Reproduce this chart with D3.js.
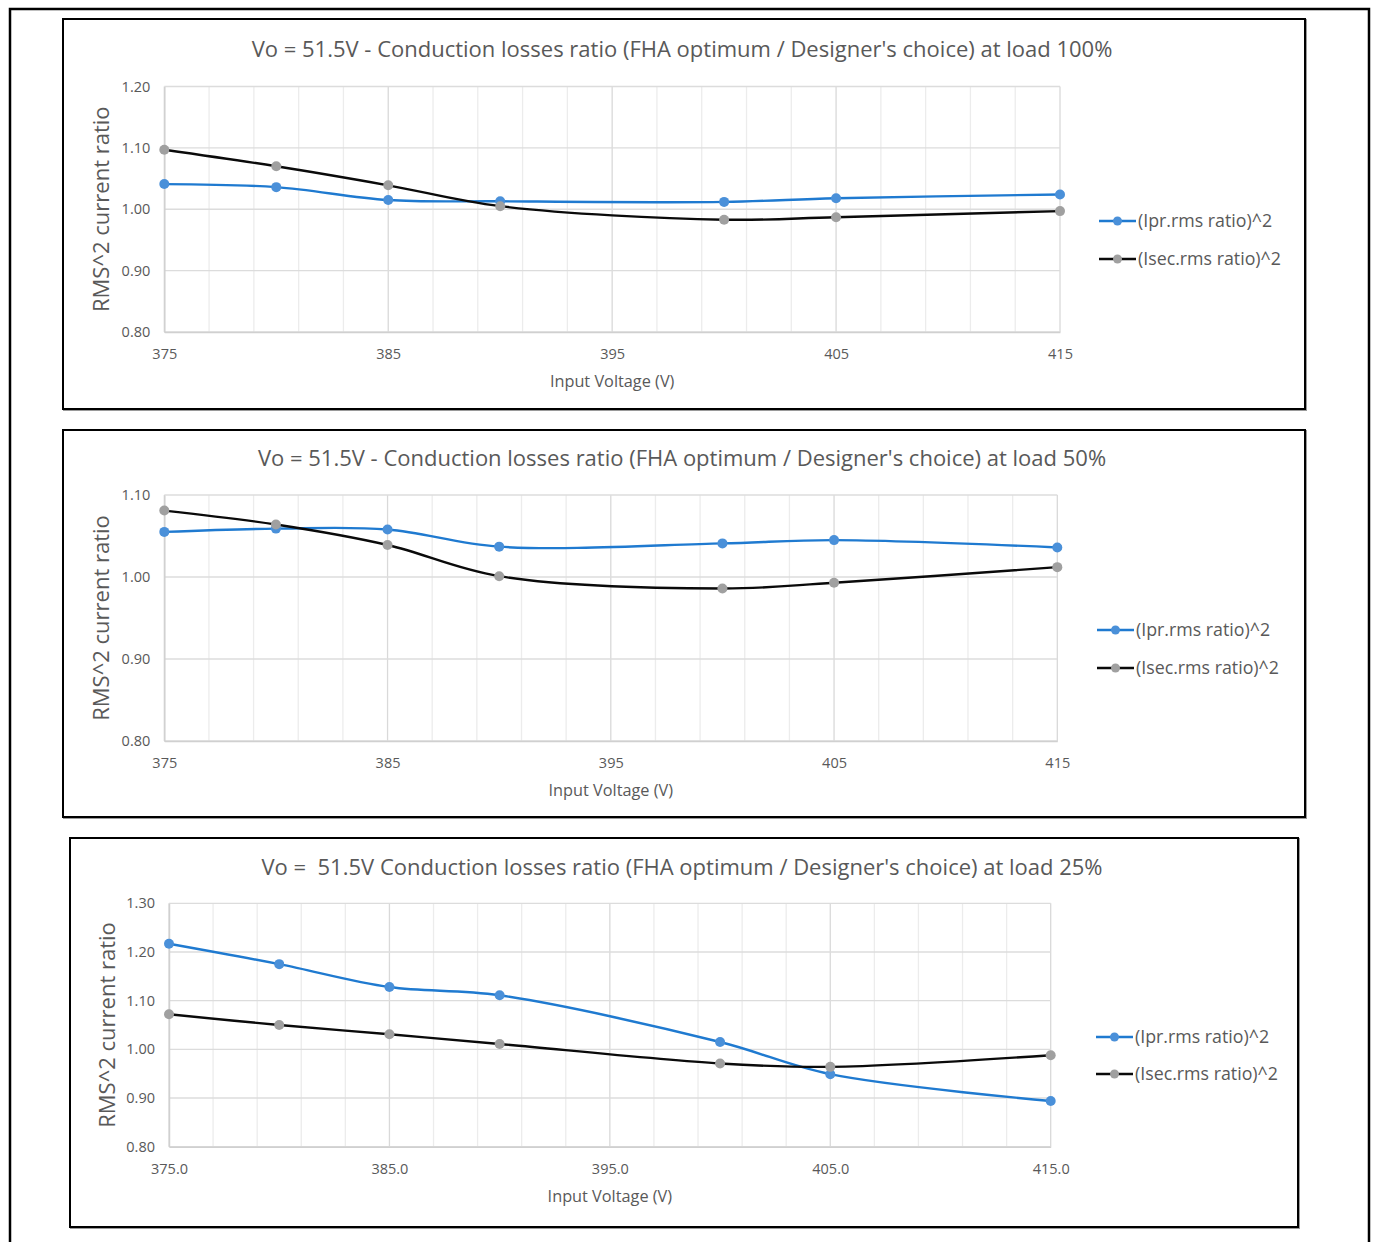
<!DOCTYPE html>
<html>
<head>
<meta charset="utf-8">
<script src="https://cdn.jsdelivr.net/npm/d3@7"></script>
<style>
  html, body { margin: 0; padding: 0; background: #fff; }
  svg { display: block; font-family: "Open Sans", Lato, sans-serif; }
</style>
</head>
<body>
<svg id="chart" width="1373" height="1242"></svg>
<script>
// Input voltage sample points (V)
const inputVoltage = [375, 380, 385, 390, 400, 405, 415];

// Load 100 %
const iprLoad100  = [1.041, 1.036, 1.015, 1.013, 1.012, 1.018, 1.024];
const isecLoad100 = [1.097, 1.070, 1.039, 1.005, 0.983, 0.987, 0.997];

// Load 50 %
const iprLoad50  = [1.055, 1.059, 1.058, 1.037, 1.041, 1.045, 1.036];
const isecLoad50 = [1.081, 1.064, 1.039, 1.001, 0.986, 0.993, 1.012];

// Load 25 %
const iprLoad25  = [1.217, 1.175, 1.128, 1.111, 1.015, 0.949, 0.894];
const isecLoad25 = [1.072, 1.050, 1.031, 1.011, 0.971, 0.964, 0.988];

const titles = [
  "Vo = 51.5V - Conduction losses ratio (FHA optimum / Designer's choice) at load 100%",
  "Vo = 51.5V - Conduction losses ratio (FHA optimum / Designer's choice) at load 50%",
  "Vo =  51.5V Conduction losses ratio (FHA optimum / Designer's choice) at load 25%"
];
const seriesNames = ["(Ipr.rms ratio)^2", "(Isec.rms ratio)^2"];
const xTicks = [375, 385, 395, 405, 415];
const yTicks100 = [0.80, 0.90, 1.00, 1.10, 1.20];
const yTicks50  = [0.80, 0.90, 1.00, 1.10];
const yTicks25  = [0.80, 0.90, 1.00, 1.10, 1.20, 1.30];
const xTitle = "Input Voltage (V)";
const yTitle = "RMS^2 current ratio";

const svg = d3.select("#chart");
const textGray = "#595959";
const blueLine = "#1f7ad0", blueMark = "#4a90d9";
const blackLine = "#0a0a0a", grayMark = "#a0a0a0";

// Outer frame (open at the bottom)
svg.append("path")
  .attr("d", "M10,1242 V9 H1369 V1242")
  .attr("fill", "none").attr("stroke", "#000").attr("stroke-width", 2.5);

const panels = [
  { box: [63, 19, 1305, 409], plot: [164.3, 1060, 86.5, 332], title: titles[0], titleY: 57,
    yTicks: yTicks100, xFmt: d3.format("d"), series: [iprLoad100, isecLoad100],
    legendX: 1099, legendY: [221, 259], yTitleX: 109 },
  { box: [63, 430, 1305, 817], plot: [164.3, 1057.3, 495, 741], title: titles[1], titleY: 466,
    yTicks: yTicks50, xFmt: d3.format("d"), series: [iprLoad50, isecLoad50],
    legendX: 1097, legendY: [630, 668], yTitleX: 109 },
  { box: [70, 838, 1298, 1227], plot: [169, 1050.7, 903.3, 1146.7], title: titles[2], titleY: 875,
    yTicks: yTicks25, xFmt: d3.format(".1f"), series: [iprLoad25, isecLoad25],
    legendX: 1096, legendY: [1037, 1074], yTitleX: 115 }
];

panels.forEach(p => {
  const g = svg.append("g");
  const [bx0, by0, bx1, by1] = p.box;
  // panel border with faint shadow
  g.append("rect").attr("x", bx0 + 1).attr("y", by0 + 1)
    .attr("width", bx1 - bx0).attr("height", by1 - by0)
    .attr("fill", "none").attr("stroke", "#9a9a9a").attr("stroke-width", 2);
  g.append("rect").attr("x", bx0).attr("y", by0)
    .attr("width", bx1 - bx0).attr("height", by1 - by0)
    .attr("fill", "#fff").attr("stroke", "#000").attr("stroke-width", 2);

  const [px0, px1, py0, py1] = p.plot;
  const x = d3.scaleLinear().domain([375, 415]).range([px0, px1]);
  const yMin = p.yTicks[0], yMax = p.yTicks[p.yTicks.length - 1];
  const y = d3.scaleLinear().domain([yMin, yMax]).range([py1, py0]);

  // vertical gridlines every 2 V
  const vGrid = d3.range(375, 415.1, 2);
  g.append("g").selectAll("line").data(vGrid).join("line")
    .attr("x1", d => x(d)).attr("x2", d => x(d))
    .attr("y1", py0).attr("y2", py1)
    .attr("stroke", d => ((d - 375) % 10 === 0) ? "#d9d9d9" : "#ececec")
    .attr("stroke-width", 1.3);
  // horizontal gridlines
  g.append("g").selectAll("line").data(p.yTicks).join("line")
    .attr("x1", px0).attr("x2", px1)
    .attr("y1", d => y(d)).attr("y2", d => y(d))
    .attr("stroke", "#dcdcdc").attr("stroke-width", 1.3);

  // axes
  const xAxis = d3.axisBottom(x).tickValues(xTicks).tickFormat(p.xFmt).tickSize(0).tickPadding(17);
  const xg = g.append("g").attr("transform", `translate(0,${py1})`).call(xAxis);
  xg.select(".domain").attr("stroke", "#d0d0d0").attr("stroke-width", 1.5);
  xg.selectAll("text").attr("fill", textGray).style("font-size", "14.5px").style("font-family", "Open Sans");

  const yAxis = d3.axisLeft(y).tickValues(p.yTicks).tickFormat(d3.format(".2f")).tickSize(0).tickPadding(14);
  const yg = g.append("g").attr("transform", `translate(${px0},0)`).call(yAxis);
  yg.select(".domain").attr("stroke", "#d0d0d0").attr("stroke-width", 1.5);
  yg.selectAll("text").attr("fill", textGray).style("font-size", "14.5px").style("font-family", "Open Sans");

  // titles
  g.append("text").attr("x", (bx0 + bx1) / 2 - 2).attr("y", p.titleY)
    .attr("text-anchor", "middle").attr("fill", textGray)
    .style("white-space", "pre")
    .style("font-size", "22px").text(p.title);
  g.append("text").attr("x", (px0 + px1) / 2).attr("y", py1 + 55)
    .attr("text-anchor", "middle").attr("fill", textGray)
    .style("font-size", "16.3px").text(xTitle);
  g.append("text")
    .attr("transform", `translate(${p.yTitleX},${(py0 + py1) / 2}) rotate(-90)`)
    .attr("text-anchor", "middle").attr("fill", textGray)
    .style("font-size", "22px").text(yTitle);

  // series
  const line = d3.line().x((d, i) => x(inputVoltage[i])).y(d => y(d))
    .curve(d3.curveCatmullRom.alpha(0.5));
  const styles = [
    { line: blueLine, mark: blueMark },
    { line: blackLine, mark: grayMark }
  ];
  p.series.forEach((vals, si) => {
    g.append("path").datum(vals).attr("d", line)
      .attr("fill", "none").attr("stroke", styles[si].line).attr("stroke-width", 2.4);
  });
  p.series.forEach((vals, si) => {
    g.append("g").selectAll("circle").data(vals).join("circle")
      .attr("cx", (d, i) => x(inputVoltage[i])).attr("cy", d => y(d))
      .attr("r", 5).attr("fill", styles[si].mark);
  });

  // legend
  seriesNames.forEach((name, si) => {
    const ly = p.legendY[si];
    g.append("line").attr("x1", p.legendX).attr("x2", p.legendX + 37)
      .attr("y1", ly).attr("y2", ly)
      .attr("stroke", styles[si].line).attr("stroke-width", 2.4);
    g.append("circle").attr("cx", p.legendX + 18.5).attr("cy", ly).attr("r", 4.5)
      .attr("fill", styles[si].mark);
    g.append("text").attr("x", p.legendX + 39).attr("y", ly).attr("dy", "0.35em")
      .attr("fill", textGray).style("font-size", "17.8px").text(name);
  });
});
</script>
</body>
</html>
